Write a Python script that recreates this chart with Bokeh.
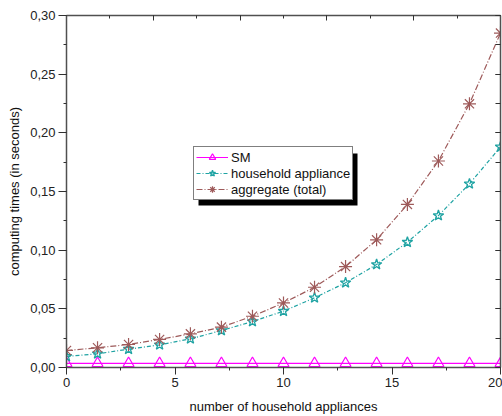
from bokeh.plotting import figure
from bokeh.models import (Range1d, LinearAxis, SingleIntervalTicker, CustomJSTickFormatter,
                          Legend, LegendItem, BoxAnnotation)
from bokeh.embed import file_html
from bokeh.resources import INLINE

# ---- data ----
n_appliances = [0, 1.43, 2.86, 4.29, 5.71, 7.14, 8.57, 10, 11.43, 12.86, 14.29, 15.71, 17.14, 18.57, 20]
sm_time = [0.0035, 0.0035, 0.0035, 0.0035, 0.0035, 0.0035, 0.0035, 0.0035,
           0.0035, 0.0035, 0.0035, 0.0035, 0.0035, 0.0035, 0.0035]
household_time = [0.0094, 0.0117, 0.0156, 0.0193, 0.0244, 0.0315, 0.0392, 0.048,
                  0.0594, 0.0722, 0.0878, 0.1068, 0.1295, 0.1565, 0.188]
aggregate_time = [0.0145, 0.0168, 0.0196, 0.0239, 0.0287, 0.0344, 0.0437, 0.055,
                  0.0684, 0.086, 0.1088, 0.139, 0.176, 0.2247, 0.285]
series_names = ["SM", "household appliance", "aggregate (total)"]
x_title = "number of household appliances"
y_title = "computing times (in seconds)"

FONT = "Liberation Sans"
AX = "#505050"

p = figure(width=502, height=416, output_backend="svg", toolbar_location=None,
           x_range=Range1d(0, 20.0000001), y_range=Range1d(0, 0.3000001),
           min_border_left=66, min_border_right=2, min_border_top=15, min_border_bottom=49,
           x_axis_location=None, y_axis_location=None)
p.grid.visible = False
p.outline_line_color = None
p.background_fill_color = "white"
p.border_fill_color = "white"

comma = CustomJSTickFormatter(code="return tick.toFixed(2).replace('.', ',');")
blank = CustomJSTickFormatter(code="return '';")

# left axis
yl = LinearAxis(ticker=SingleIntervalTicker(interval=0.05, num_minor_ticks=2), formatter=comma,
                axis_label=y_title)
# bottom axis
xb = LinearAxis(ticker=SingleIntervalTicker(interval=5, num_minor_ticks=2), axis_label=x_title)
# right axis (ticks inside, no labels)
yr = LinearAxis(ticker=SingleIntervalTicker(interval=0.05, num_minor_ticks=2), formatter=blank)
# top axis (ticks inside, no labels)
xt = LinearAxis(ticker=SingleIntervalTicker(interval=4, num_minor_ticks=2), formatter=blank)

for ax in (yl, xb, yr, xt):
    ax.axis_line_color = AX
    ax.axis_line_width = 1.5
    ax.major_tick_line_color = "#303030"
    ax.minor_tick_line_color = "#303030"
    ax.major_label_text_font = FONT
    ax.major_label_text_color = "#222222"
    ax.major_label_text_font_size = "13px"
    ax.axis_label_text_font = FONT
    ax.axis_label_text_font_size = "13px"
    ax.axis_label_text_font_style = "normal"
    ax.axis_label_text_color = "#111111"

yl.major_tick_out = 8
yl.major_tick_in = 0
yl.minor_tick_out = 3
yl.minor_tick_in = 0
yl.major_label_standoff = 3
yl.axis_label_standoff = 5

xb.major_tick_out = 7
xb.major_tick_in = 0
xb.minor_tick_out = 3
xb.minor_tick_in = 0
xb.major_label_standoff = 3
xb.axis_label_standoff = 9

for ax in (yr, xt):
    ax.major_tick_out = 0
    ax.major_tick_in = 5
    ax.minor_tick_out = 0
    ax.minor_tick_in = 3
    ax.major_label_standoff = 0
    ax.axis_label_standoff = 0
yr.minor_tick_in = 5

p.add_layout(yl, "left")
p.add_layout(xb, "below")
p.add_layout(yr, "right")
p.add_layout(xt, "above")

MAG = "#ff00ff"
TEAL = "#1fa3a3"
BROWN = "#9e5a5a"

l1 = p.line(n_appliances, sm_time, line_color=MAG, line_width=1.2)
s1 = p.scatter(n_appliances, sm_time, marker="triangle", size=11, fill_color=None,
               line_color=MAG, line_width=1.2)
l2 = p.line(n_appliances, household_time, line_color=TEAL, line_width=1.2, line_dash="4 2 1 2")
s2 = p.scatter(n_appliances, household_time, marker="star", size=11, fill_color=None,
               line_color=TEAL, line_width=1.3)
l3 = p.line(n_appliances, aggregate_time, line_color=BROWN, line_width=1.2, line_dash="6 2 1 2")
s3 = p.scatter(n_appliances, aggregate_time, marker="asterisk", size=13,
               line_color=BROWN, line_width=1.2)

# legend shadow
shadow = BoxAnnotation(left=132, right=291, bottom=162, top=214,
                       left_units="screen", right_units="screen",
                       bottom_units="screen", top_units="screen",
                       fill_color="black", fill_alpha=1.0, line_color=None)
p.add_layout(shadow)

legend = Legend(items=[LegendItem(label=series_names[0], renderers=[l1, s1]),
                       LegendItem(label=series_names[1], renderers=[l2, s2]),
                       LegendItem(label=series_names[2], renderers=[l3, s3])],
                location=(127, 167))
legend.label_text_font = FONT
legend.label_text_font_size = "13px"
legend.label_text_color = "#111111"
legend.label_height = 16
legend.glyph_height = 16
legend.glyph_width = 32
legend.label_standoff = 3
legend.spacing = 0
legend.padding = 2
legend.margin = 0
legend.border_line_color = "black"
legend.border_line_width = 1
legend.background_fill_color = "white"
legend.background_fill_alpha = 1.0
p.add_layout(legend)

open("out.html", "w").write(file_html(p, INLINE))
